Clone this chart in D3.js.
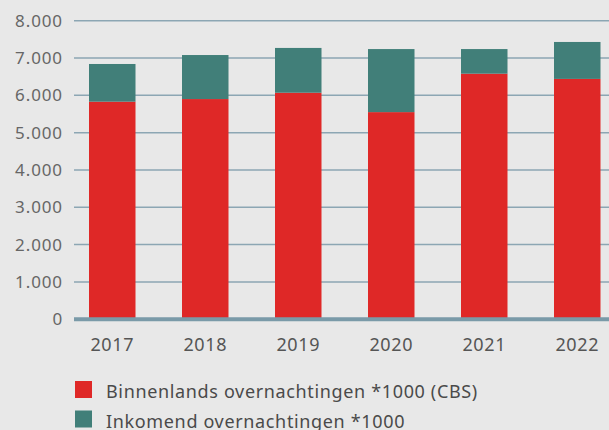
<!DOCTYPE html>
<html>
<head>
<meta charset="utf-8">
<script src="https://cdn.jsdelivr.net/npm/d3@7"></script>
<style>
  body { margin: 0; background: #e8e8e8; }
  svg { display: block; font-family: "Noto Sans", "Open Sans", sans-serif; }
</style>
</head>
<body>
<svg width="609" height="430"></svg>
<script>
// Data (x1000 overnight stays)
const years = ["2017", "2018", "2019", "2020", "2021", "2022"];
const binnenlands = [5830, 5900, 6070, 5550, 6580, 6440];
const inkomend = [1010, 1180, 1200, 1690, 660, 990];
const yTicks = [0, 1000, 2000, 3000, 4000, 5000, 6000, 7000, 8000];
const seriesNames = ["Binnenlands overnachtingen *1000 (CBS)", "Inkomend overnachtingen *1000"];
const seriesColors = ["#df2827", "#417f79"];

const svg = d3.select("svg");
const width = 609;

// bands: bars ~46px wide, step ~93px
const x = d3.scaleBand()
    .domain(years)
    .range([42.5, 647])
    .padding(0.5);

const y = d3.scaleLinear()
    .domain([0, 8000])
    .range([319.2, 20.7]);

// gridlines
svg.append("g")
    .selectAll("line")
    .data(yTicks.filter(d => d > 0))
    .enter()
    .append("line")
        .attr("x1", 74)
        .attr("x2", width)
        .attr("y1", d => y(d))
        .attr("y2", d => y(d))
        .attr("stroke", "#8ca6b3")
        .attr("stroke-width", 1.5);

// y labels
const fmt = d => d3.format(",")(d).replace(/,/g, ".");
svg.append("g")
    .selectAll("text")
    .data(yTicks)
    .enter()
    .append("text")
        .attr("x", 63)
        .attr("y", d => y(d))
        .attr("dy", "0.35em")
        .attr("text-anchor", "end")
        .attr("fill", "#666")
        .style("font-size", "17px")
        .style("letter-spacing", "0.9px")
        .text(fmt);

// stacked bars
const rows = years.map((yr, i) => ({ year: yr, b: binnenlands[i], k: inkomend[i] }));
const stack = d3.stack().keys(["b", "k"])(rows);

svg.append("g")
    .selectAll("g")
    .data(stack)
    .enter()
    .append("g")
        .attr("fill", (d, i) => seriesColors[i])
    .selectAll("rect")
    .data(d => d)
    .enter()
    .append("rect")
        .attr("x", d => x(d.data.year))
        .attr("width", x.bandwidth())
        .attr("y", d => y(d[1]))
        .attr("height", d => y(d[0]) - y(d[1]));

// baseline
svg.append("line")
    .attr("x1", 74)
    .attr("x2", width)
    .attr("y1", y(0))
    .attr("y2", y(0))
    .attr("stroke", "#7a9aa8")
    .attr("stroke-width", 4);

// x labels
svg.append("g")
    .selectAll("text")
    .data(years)
    .enter()
    .append("text")
        .attr("x", d => x(d) + x.bandwidth() / 2)
        .attr("y", 344.3)
        .attr("dy", "0.35em")
        .attr("text-anchor", "middle")
        .attr("fill", "#555")
        .style("font-size", "18px")
        .style("letter-spacing", "0.6px")
        .text(d => d);

// legend
const legend = svg.append("g")
    .selectAll("g")
    .data(seriesNames)
    .enter()
    .append("g")
        .attr("transform", (d, i) => `translate(75, ${381 + i * 29.5})`);

legend.append("rect")
    .attr("width", 17)
    .attr("height", 17)
    .attr("fill", (d, i) => seriesColors[i]);

legend.append("text")
    .attr("x", 31)
    .attr("y", 17.3)
    .attr("fill", "#4a4a4a")
    .style("font-size", "18px")
    .style("letter-spacing", "0.65px")
    .text(d => d);
</script>
</body>
</html>
